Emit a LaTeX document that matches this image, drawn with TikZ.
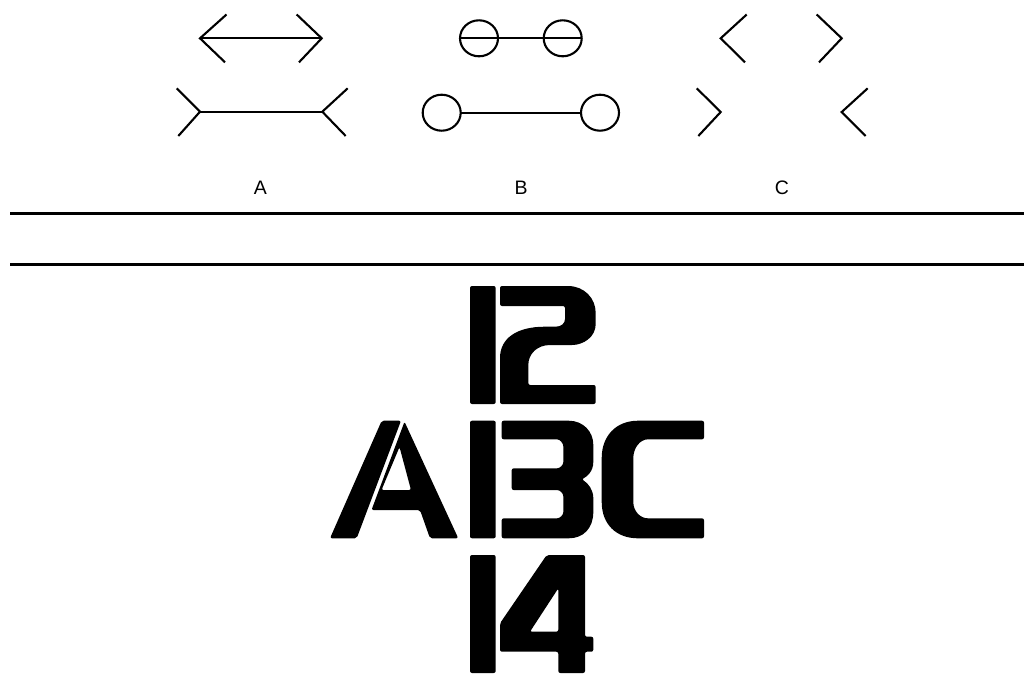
\documentclass[tikz,border=0pt]{standalone}
\usepackage{fontspec}
\setmainfont{Liberation Sans}
\begin{document}
\begin{tikzpicture}[x=1pt,y=-1pt,
  fig/.style={line width=2.1pt},
  rule/.style={line width=2.8pt},
  lbl/.style={font=\fontsize{19.5}{22}\selectfont, inner sep=0pt},
  glyph/.style={fill=black, rounded corners=2pt}]
\useasboundingbox (0,0) rectangle (1024,673);

% ---- Panel A: Mueller-Lyer
\coordinate (a1l) at (200,38.3);   \coordinate (a1r) at (321.7,38.3);
\coordinate (a2l) at (200,111.7);  \coordinate (a2r) at (322.3,111.7);
\draw[fig] (a1l) -- (a1r);
\draw[fig] (226.5,14.5) -- (a1l) -- (225,62.3);
\draw[fig] (296.7,14.5) -- (a1r) -- (299,62.3);
\draw[fig] (a2l) -- (a2r);
\draw[fig] (176.7,88.3) -- (a2l) -- (178.3,136);
\draw[fig] (347.7,88.3) -- (a2r) -- (345.7,136);

% ---- Panel B: circles
\coordinate (b1l) at (479,38.3);   \coordinate (b1r) at (562.7,38.3);
\coordinate (b2l) at (441.7,112.7); \coordinate (b2r) at (600,112.7);
\draw[fig] (460,38.3) -- (581.7,38.3);
\draw[fig] (b1l) ellipse [x radius=19pt, y radius=18pt];
\draw[fig] (b1r) ellipse [x radius=19pt, y radius=18pt];
\draw[fig] (b2l) ellipse [x radius=19pt, y radius=18pt];
\draw[fig] (b2r) ellipse [x radius=19pt, y radius=18pt];
\draw[fig] (460.7,112.7) -- (581,112.7);

% ---- Panel C: chevrons only
\draw[fig] (746.7,14.5) -- (720.7,38.3) -- (745,62.3);
\draw[fig] (816.7,14.5) -- (841.7,38.3) -- (819,62.3);
\draw[fig] (696.7,88.3) -- (720.7,112) -- (698.3,136);
\draw[fig] (867.7,88.3) -- (841.7,112) -- (865.7,136);

% ---- labels
\node[lbl] (labA) at (260.3,188) {A};
\node[lbl] (labB) at (521,188) {B};
\node[lbl] (labC) at (782,188) {C};

% ---- rules
\draw[rule] (10,213.3) -- (1024,213.3);
\draw[rule] (10,264.3) -- (1024,264.3);

% ---- 12
\fill[glyph] (470,286) rectangle (495.7,404);
\fill[glyph] (500,286) -- (566,286) .. controls (584,286) and (595.7,298) .. (595.7,315)
  -- (595.7,322) .. controls (595.7,337) and (583.3,345) .. (570,345)
  -- (552,345) .. controls (537,345) and (528.3,354) .. (528.3,367)
  -- (528.3,385) -- (595.7,385) -- (595.7,404) -- (500,404)
  -- (500,360) .. controls (500,338.3) and (516.7,326.7) .. (546.7,326.7)
  -- (553.3,326.7) .. controls (561.7,326.7) and (565,323.3) .. (565,316.7)
  -- (565,306) -- (500,306) -- cycle;

% ---- A (stencil)
\fill[glyph] (381.7,420.7) -- (401,420.7) -- (356.7,538.3) -- (330,538.3) -- cycle;
\fill[glyph, even odd rule] (404.5,421.7) -- (458.3,538.3) -- (430,538.3) -- (420,510)
  -- (371.5,510) -- cycle
  (399.5,447) -- (411,490) -- (381.5,490) -- cycle;

% ---- 1 / B (13)
\fill[glyph] (470,420.7) rectangle (495.7,538.3);
\fill[glyph] (501.7,420.7) -- (566.7,420.7) .. controls (583.3,420.7) and (593.3,431.7) .. (593.3,446.7)
  -- (593.3,460) .. controls (593.3,471.7) and (586.7,476.7) .. (581.7,479.3)
  .. controls (588.3,483.3) and (593.3,490) .. (593.3,500)
  -- (593.3,510) .. controls (593.3,528.3) and (583.3,538.3) .. (566.7,538.3)
  -- (501.7,538.3) -- (501.7,518.3) -- (555,518.3) .. controls (560,518.3) and (563.3,515) .. (563.3,510)
  -- (563.3,498.3) .. controls (563.3,493.3) and (560,490) .. (555,490)
  -- (511.7,490) -- (511.7,468.3) -- (555,468.3) .. controls (560,468.3) and (563.3,465) .. (563.3,460)
  -- (563.3,448.3) .. controls (563.3,443.3) and (560,439.3) .. (555,439.3)
  -- (501.7,439.3) -- cycle;

% ---- C
\fill[glyph] (704,420.7) -- (640,420.7) .. controls (616,420.7) and (601.7,436) .. (601.7,460)
  -- (601.7,500) .. controls (601.7,524) and (616,538.3) .. (640,538.3)
  -- (704,538.3) -- (704,518.3) -- (650,518.3) .. controls (640,518.3) and (633.3,511) .. (633.3,500)
  -- (633.3,460) .. controls (633.3,448) and (640,439.3) .. (650,439.3)
  -- (704,439.3) -- cycle;

% ---- 14
\fill[glyph] (470,555) rectangle (495.7,673);
\fill[glyph, even odd rule] (546.7,555) -- (585,555) -- (585,636.7) -- (593.3,636.7) -- (593.3,651.7)
  -- (585,651.7) -- (585,673) -- (558.3,673) -- (558.3,651.7) -- (500,651.7) -- (500,623.3) -- cycle
  (558.3,588.3) -- (558.3,631.7) -- (530,631.7) -- cycle;
\end{tikzpicture}
\end{document}
